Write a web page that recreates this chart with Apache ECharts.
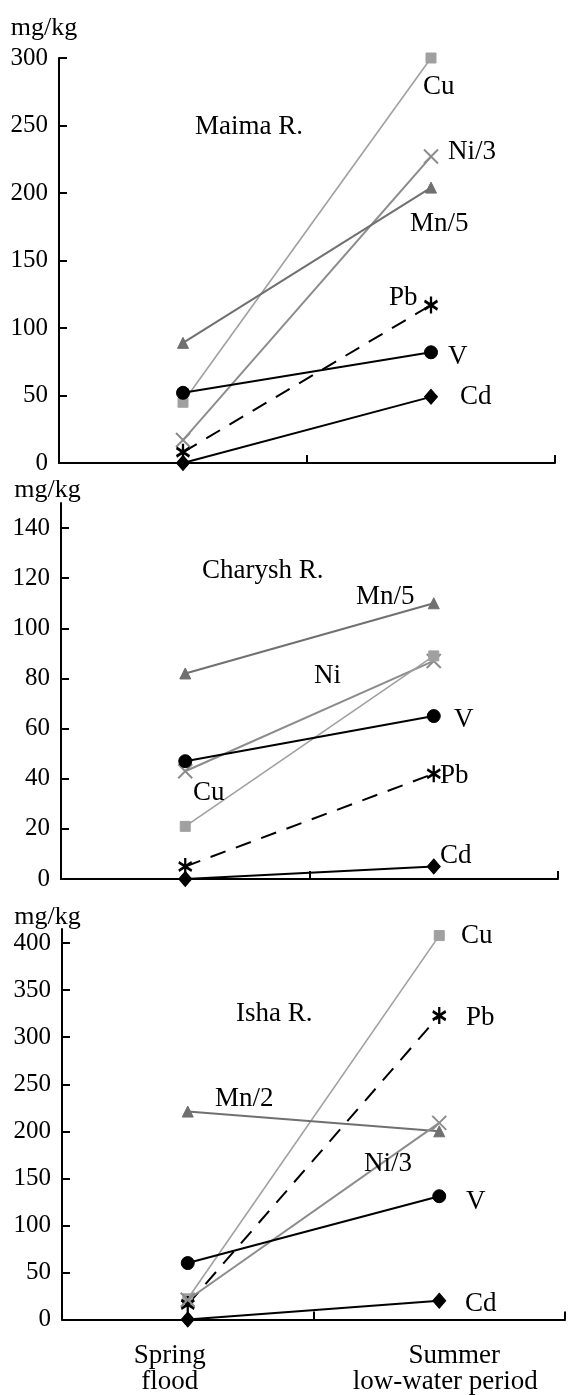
<!DOCTYPE html>
<html>
<head>
<meta charset="utf-8">
<script src="https://cdn.jsdelivr.net/npm/echarts@6/dist/echarts.min.js"></script>
<style>
html,body{margin:0;padding:0;background:#fff;}
#c{width:569px;height:1395px;}
</style>
</head>
<body>
<div id="c"></div>
<script>
// ---- data ----
var categories = ['Spring\nflood', 'Summer\nlow-water period'];

var maimaCu  = [45, 300];
var maimaNi3 = [17, 227];
var maimaMn5 = [89, 204];
var maimaPb  = [8, 117];
var maimaV   = [52, 82];
var maimaCd  = [0, 49];

var charyshMn5 = [82, 110];
var charyshNi  = [43, 87];
var charyshCu  = [21, 89];
var charyshV   = [47, 65];
var charyshPb  = [5, 42];
var charyshCd  = [0, 5];

var ishaCu  = [22, 408];
var ishaPb  = [16, 323];
var ishaMn2 = [221, 200];
var ishaNi3 = [21, 209];
var ishaV   = [60, 131];
var ishaCd  = [0, 20];

var maimaTicks   = [0, 50, 100, 150, 200, 250, 300];
var charyshTicks = [0, 20, 40, 60, 80, 100, 120, 140];
var ishaTicks    = [0, 50, 100, 150, 200, 250, 300, 350, 400];

// ---- styles ----
var FONT = 'Liberation Serif';
var cCu = '#a0a0a0', cNi = '#8c8c8c', cMn = '#707070', cBk = '#000000';
var symX = 'path://M0,0L10,10M10,0L0,10';
var symAst = 'path://M5,0L5,12M0,3L10,9M10,3L0,9';

var styles = {
  Cu: {color: cCu, symbol: 'rect', size: 10, width: 1.6, bw: 1},
  Ni: {color: cNi, symbol: symX, size: 14, width: 2, bw: 2},
  Mn: {color: cMn, symbol: 'triangle', size: 11, width: 2, bw: 1},
  Pb: {color: cBk, symbol: symAst, size: [13, 17], width: 2, dash: [16, 11], bw: 2.6},
  V:  {color: cBk, symbol: 'circle', size: 13, width: 2, bw: 1},
  Cd: {color: cBk, symbol: 'diamond', size: [13, 15], width: 2, bw: 1}
};

function mk(name, key, data, idx) {
  var s = styles[key];
  return {
    name: name, type: 'line', data: data,
    xAxisIndex: idx, yAxisIndex: idx,
    symbol: s.symbol, symbolSize: s.size, showSymbol: true,
    lineStyle: {color: s.color, width: s.width, type: s.dash ? s.dash : 'solid'},
    itemStyle: {color: s.color, borderColor: s.color, borderWidth: s.bw},
    emphasis: {disabled: true},
    animation: false, z: 3
  };
}

var grids = [
  {left: 59, right: 14, top: 58, height: 405},
  {left: 61, right: 11, top: 503, height: 376},
  {left: 62, right: 4, top: 929, height: 394}
];

function xAx(idx, showLabel) {
  return {
    type: 'category', gridIndex: idx, data: categories, boundaryGap: true,
    axisLine: {lineStyle: {color: '#000', width: 2}},
    axisTick: {show: true, inside: true, length: 8, lineStyle: {color: '#000', width: 2}},
    axisLabel: showLabel ? {
      show: true, interval: 0, hideOverlap: false, color: '#000', fontFamily: FONT, fontSize: 27, margin: 23, lineHeight: 26,
      formatter: function (v, i) {
        if (i === 0) return '{a|Spring}\n{a|flood}';
        return '{b|Summer}\n{c|low-water period}';
      },
      rich: {
        a: {fontFamily: FONT, fontSize: 27, color: '#000', lineHeight: 26, padding: [0, 36, 0, 0]},
        b: {fontFamily: FONT, fontSize: 27, color: '#000', lineHeight: 26, padding: [0, 0, 0, 30]},
        c: {fontFamily: FONT, fontSize: 27, color: '#000', lineHeight: 26, padding: [0, 0, 0, 12]}
      }
    } : {show: false},
    splitLine: {show: false}
  };
}

function yAx(idx, max, ticks, name, gap, padR) {
  return {
    type: 'value', gridIndex: idx, min: 0, max: max,
    name: name, nameLocation: 'end', nameGap: gap,
    nameTextStyle: {fontFamily: FONT, fontSize: 26, color: '#000', align: 'center', verticalAlign: 'middle', padding: [0, padR, 0, 0]},
    axisLine: {show: true, lineStyle: {color: '#000', width: 2}},
    axisTick: {show: true, inside: true, length: 8, customValues: ticks, lineStyle: {color: '#000', width: 2}},
    axisLabel: {show: true, customValues: ticks, color: '#000', fontFamily: FONT, fontSize: 25, margin: 11},
    splitLine: {show: false}
  };
}

function txt(t, x, y) {
  return {type: 'text', x: x, y: y, z: 10, silent: true,
    style: {text: t, fill: '#000', font: '27px "' + FONT + '"', align: 'left', verticalAlign: 'middle'}};
}

var series = [
  mk('Cu', 'Cu', maimaCu, 0), mk('Ni/3', 'Ni', maimaNi3, 0), mk('Mn/5', 'Mn', maimaMn5, 0),
  mk('Pb', 'Pb', maimaPb, 0), mk('V', 'V', maimaV, 0), mk('Cd', 'Cd', maimaCd, 0),
  mk('Mn/5', 'Mn', charyshMn5, 1), mk('Ni', 'Ni', charyshNi, 1), mk('Cu', 'Cu', charyshCu, 1),
  mk('V', 'V', charyshV, 1), mk('Pb', 'Pb', charyshPb, 1), mk('Cd', 'Cd', charyshCd, 1),
  mk('Cu', 'Cu', ishaCu, 2), mk('Pb', 'Pb', ishaPb, 2), mk('Mn/2', 'Mn', ishaMn2, 2),
  mk('Ni/3', 'Ni', ishaNi3, 2), mk('V', 'V', ishaV, 2), mk('Cd', 'Cd', ishaCd, 2)
];

var option = {
  backgroundColor: '#fff',
  animation: false,
  grid: grids,
  xAxis: [xAx(0, false), xAx(1, false), xAx(2, true)],
  yAxis: [
    yAx(0, 300, maimaTicks, 'mg/kg', 30, 30),
    yAx(1, 150, charyshTicks, 'mg/kg', 13, 27),
    yAx(2, 415, ishaTicks, 'mg/kg', 12, 29)
  ],
  series: series,
  graphic: [
    txt('Maima R.', 195, 127), txt('Cu', 423, 87), txt('Ni/3', 448, 152), txt('Mn/5', 410, 224),
    txt('Pb', 389, 298), txt('V', 448, 357), txt('Cd', 460, 397),
    txt('Charysh R.', 202, 571), txt('Mn/5', 356, 597), txt('Ni', 314, 676), txt('V', 454, 720),
    txt('Cu', 193, 793), txt('Pb', 440, 776), txt('Cd', 440, 856),
    txt('Isha R.', 236, 1014), txt('Cu', 461, 936), txt('Pb', 466, 1018), txt('Mn/2', 215, 1099),
    txt('Ni/3', 364, 1164), txt('V', 466, 1202), txt('Cd', 465, 1304)
  ]
};

var chart = echarts.init(document.getElementById('c'), null, {renderer: 'canvas'});
chart.setOption(option);
</script>
</body>
</html>
